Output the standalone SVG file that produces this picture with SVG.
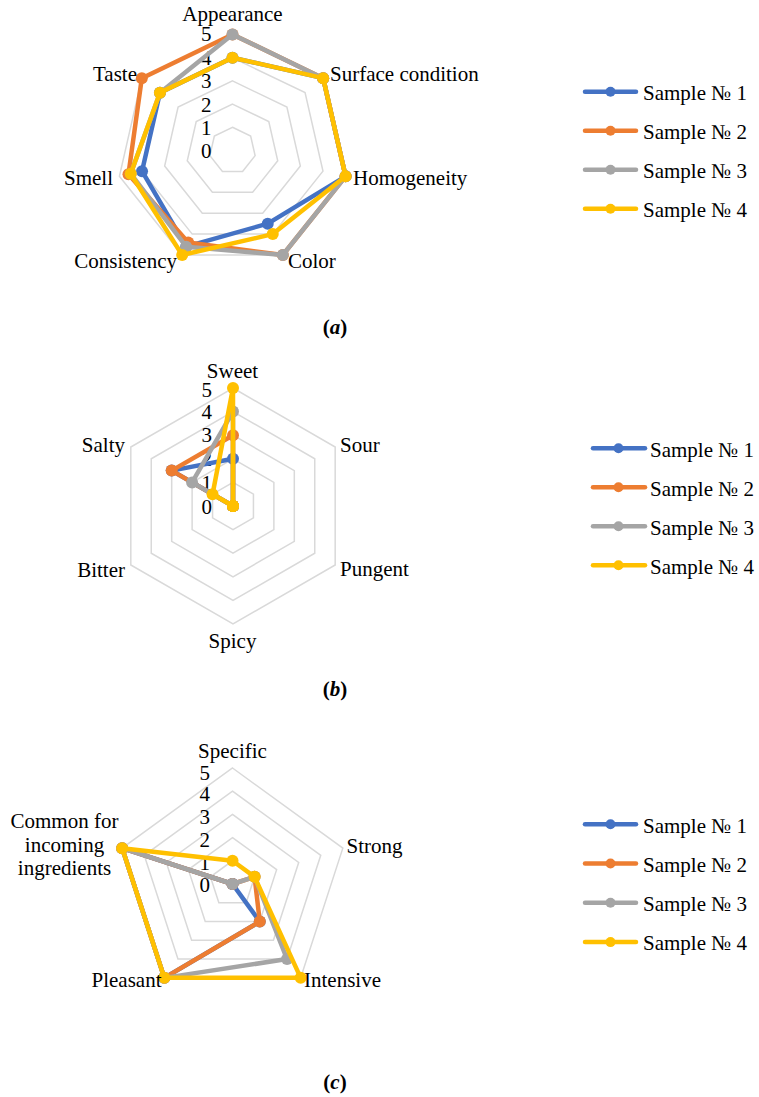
<svg xmlns="http://www.w3.org/2000/svg" width="759" height="1097" viewBox="0 0 759 1097">
<style>
text{font-family:"Liberation Serif","Times New Roman",serif;font-size:21px;fill:#000}
.grid{fill:none;stroke:#D9D9D9;stroke-width:1.5}
.ln{fill:none;stroke-width:4.5;stroke-linejoin:round;stroke-linecap:round}
.b{stroke:#4472C4}.o{stroke:#ED7D31}.g{stroke:#A5A5A5}.y{stroke:#FFC000}
.sb{marker-start:url(#mb);marker-mid:url(#mb)}
.so{marker-start:url(#mo);marker-mid:url(#mo)}
.sg{marker-start:url(#mg);marker-mid:url(#mg)}
.sy{marker-start:url(#my);marker-mid:url(#my)}
.fb{fill:#4472C4}.fo{fill:#ED7D31}.fg{fill:#A5A5A5}.fy{fill:#FFC000}
.e{text-anchor:end}.m{text-anchor:middle}
.cap{font-weight:bold}
</style>
<defs>
<marker id="mb" markerUnits="userSpaceOnUse" markerWidth="14" markerHeight="14" refX="7" refY="7"><circle cx="7" cy="7" r="6" fill="#4472C4"/></marker>
<marker id="mo" markerUnits="userSpaceOnUse" markerWidth="14" markerHeight="14" refX="7" refY="7"><circle cx="7" cy="7" r="6" fill="#ED7D31"/></marker>
<marker id="mg" markerUnits="userSpaceOnUse" markerWidth="14" markerHeight="14" refX="7" refY="7"><circle cx="7" cy="7" r="6" fill="#A5A5A5"/></marker>
<marker id="my" markerUnits="userSpaceOnUse" markerWidth="14" markerHeight="14" refX="7" refY="7"><circle cx="7" cy="7" r="6" fill="#FFC000"/></marker>
</defs>

<!-- Chart (a) -->
<g id="chart-a">
<g id="grid-a">
<polygon class="grid" points="232.5,127.3 250.64,136.04 255.12,155.66 242.57,171.4 222.43,171.4 209.88,155.66 214.36,136.04"/>
<polygon class="grid" points="232.5,104.1 268.78,121.57 277.74,160.82 252.63,192.31 212.37,192.31 187.26,160.82 196.22,121.57"/>
<polygon class="grid" points="232.5,80.9 286.91,107.11 300.35,165.99 262.7,213.21 202.3,213.21 164.65,165.99 178.09,107.11"/>
<polygon class="grid" points="232.5,57.7 305.05,92.64 322.97,171.15 272.76,234.11 192.24,234.11 142.03,171.15 159.95,92.64"/>
<polygon class="grid" points="232.5,34.5 323.19,78.17 345.59,176.31 282.83,255.02 182.17,255.02 119.41,176.31 141.81,78.17"/>
</g>
<g id="axis-a">
<text class="e" x="211.5" y="40.5">5</text>
<text class="e" x="211.5" y="64.5">4</text>
<text class="e" x="211.5" y="88">3</text>
<text class="e" x="211.5" y="111.5">2</text>
<text class="e" x="211.5" y="135">1</text>
<text class="e" x="211.5" y="158.3">0</text>
</g>
<g id="series-a">
<polygon class="ln b sb" points="232.5,57.7 323.19,78.17 345.59,176.31 267.73,223.66 186.2,246.65 142.03,171.15 159.95,92.64"/>
<polygon class="ln o so" points="232.5,34.5 323.19,78.17 345.59,176.31 282.83,255.02 188.21,242.47 128.46,174.25 141.81,78.17"/>
<polygon class="ln g sg" points="232.5,34.5 323.19,78.17 345.59,176.31 282.83,255.02 186.2,246.65 130.72,173.73 159.95,92.64"/>
<polygon class="ln y sy" points="232.5,57.7 323.19,78.17 345.59,176.31 272.76,234.11 182.17,255.02 130.72,173.73 159.95,92.64"/>
</g>
<g id="labels-a">
<text class="m" x="232.5" y="21">Appearance</text>
<text x="330" y="81">Surface condition</text>
<text x="353" y="185">Homogeneity</text>
<text x="288" y="268">Color</text>
<text class="e" x="177" y="268">Consistency</text>
<text class="e" x="113" y="185">Smell</text>
<text class="e" x="137" y="81">Taste</text>
</g>
<g id="legend-a">
<line class="ln b" x1="585" y1="91.7" x2="636" y2="91.7"/><circle class="fb" cx="610.5" cy="91.7" r="5"/><text x="643" y="100">Sample № 1</text>
<line class="ln o" x1="585" y1="130.7" x2="636" y2="130.7"/><circle class="fo" cx="610.5" cy="130.7" r="5"/><text x="643" y="139">Sample № 2</text>
<line class="ln g" x1="585" y1="169.7" x2="636" y2="169.7"/><circle class="fg" cx="610.5" cy="169.7" r="5"/><text x="643" y="178">Sample № 3</text>
<line class="ln y" x1="585" y1="208.7" x2="636" y2="208.7"/><circle class="fy" cx="610.5" cy="208.7" r="5"/><text x="643" y="217">Sample № 4</text>
</g>
<text id="caption-a" class="cap m" x="335" y="334">(<tspan font-style="italic">a</tspan>)</text>
</g>

<!-- Chart (b) -->
<g id="chart-b">
<g id="grid-b">
<polygon class="grid" points="233,482.4 253.44,494.2 253.44,517.8 233,529.6 212.56,517.8 212.56,494.2"/>
<polygon class="grid" points="233,458.8 273.88,482.4 273.88,529.6 233,553.2 192.12,529.6 192.12,482.4"/>
<polygon class="grid" points="233,435.2 294.31,470.6 294.31,541.4 233,576.8 171.69,541.4 171.69,470.6"/>
<polygon class="grid" points="233,411.6 314.75,458.8 314.75,553.2 233,600.4 151.25,553.2 151.25,458.8"/>
<polygon class="grid" points="233,388 335.19,447 335.19,565 233,624 130.81,565 130.81,447"/>
</g>
<g id="axis-b">
<text class="e" x="212" y="396.5">5</text>
<text class="e" x="212" y="418.5">4</text>
<text class="e" x="212" y="442">3</text>
<text class="e" x="212" y="466">2</text>
<text class="e" x="212" y="490">1</text>
<text class="e" x="212" y="513.5">0</text>
</g>
<g id="series-b">
<polygon class="ln b sb" points="233,458.8 233,506 233,506 233,506 233,506 171.69,470.6"/>
<polygon class="ln o so" points="233,435.2 233,506 233,506 233,506 233,506 171.69,470.6"/>
<polygon class="ln g sg" points="233,411.6 233,506 233,506 233,506 233,506 192.12,482.4"/>
<polygon class="ln y sy" points="233,388 233,506 233,506 233,506 233,506 212.56,494.2"/>
</g>
<g id="labels-b">
<text class="m" x="232.5" y="378">Sweet</text>
<text x="340" y="452">Sour</text>
<text x="340" y="576">Pungent</text>
<text class="m" x="232.5" y="648">Spicy</text>
<text class="e" x="125" y="576.5">Bitter</text>
<text class="e" x="125" y="451.5">Salty</text>
</g>
<g id="legend-b">
<line class="ln b" x1="593" y1="448.3" x2="645" y2="448.3"/><circle class="fb" cx="618.5" cy="448.3" r="5"/><text x="650" y="456.6">Sample № 1</text>
<line class="ln o" x1="593" y1="487.3" x2="645" y2="487.3"/><circle class="fo" cx="618.5" cy="487.3" r="5"/><text x="650" y="495.6">Sample № 2</text>
<line class="ln g" x1="593" y1="526.3" x2="645" y2="526.3"/><circle class="fg" cx="618.5" cy="526.3" r="5"/><text x="650" y="534.6">Sample № 3</text>
<line class="ln y" x1="593" y1="565.3" x2="645" y2="565.3"/><circle class="fy" cx="618.5" cy="565.3" r="5"/><text x="650" y="573.6">Sample № 4</text>
</g>
<text id="caption-b" class="cap m" x="335" y="696">(<tspan font-style="italic">b</tspan>)</text>
</g>

<!-- Chart (c) -->
<g id="chart-c">
<g id="grid-c">
<polygon class="grid" points="232.5,860.8 254.57,876.83 246.14,902.77 218.86,902.77 210.44,876.83"/>
<polygon class="grid" points="232.5,837.6 276.63,869.66 259.77,921.54 205.23,921.54 188.37,869.66"/>
<polygon class="grid" points="232.5,814.4 298.7,862.49 273.41,940.31 191.59,940.31 166.31,862.49"/>
<polygon class="grid" points="232.5,791.2 320.76,855.32 287.05,959.08 177.95,959.08 144.24,855.32"/>
<polygon class="grid" points="232.5,768 342.83,848.15 300.69,977.85 164.32,977.85 122.18,848.15"/>
</g>
<g id="axis-c">
<text class="e" x="210" y="780">5</text>
<text class="e" x="210" y="801">4</text>
<text class="e" x="210" y="823.5">3</text>
<text class="e" x="210" y="846.5">2</text>
<text class="e" x="210" y="869.5">1</text>
<text class="e" x="210" y="891.7">0</text>
</g>
<g id="series-c">
<polygon class="ln b sb" points="232.5,884 232.5,884 259.77,921.54 164.32,977.85 122.18,848.15"/>
<polygon class="ln o so" points="232.5,884 254.57,876.83 259.77,921.54 164.32,977.85 122.18,848.15"/>
<polygon class="ln g sg" points="232.5,884 254.57,876.83 287.05,959.08 164.32,977.85 122.18,848.15"/>
<polygon class="ln y sy" points="232.5,860.8 254.57,876.83 300.69,977.85 164.32,977.85 122.18,848.15"/>
</g>
<g id="labels-c">
<text class="m" x="232.5" y="758">Specific</text>
<text x="346.5" y="853">Strong</text>
<text x="304" y="986.5">Intensive</text>
<text class="e" x="161.5" y="986.5">Pleasant</text>
<text class="m" x="64.5" y="828"><tspan x="64.5">Common for</tspan><tspan x="64.5" dy="23.5">incoming</tspan><tspan x="64.5" dy="23.5">ingredients</tspan></text>
</g>
<g id="legend-c">
<line class="ln b" x1="585" y1="824.3" x2="636" y2="824.3"/><circle class="fb" cx="610.5" cy="824.3" r="5"/><text x="643" y="832.6">Sample № 1</text>
<line class="ln o" x1="585" y1="863.5" x2="636" y2="863.5"/><circle class="fo" cx="610.5" cy="863.5" r="5"/><text x="643" y="871.8">Sample № 2</text>
<line class="ln g" x1="585" y1="902.8" x2="636" y2="902.8"/><circle class="fg" cx="610.5" cy="902.8" r="5"/><text x="643" y="911.1">Sample № 3</text>
<line class="ln y" x1="585" y1="942.1" x2="636" y2="942.1"/><circle class="fy" cx="610.5" cy="942.1" r="5"/><text x="643" y="950.4">Sample № 4</text>
</g>
<text id="caption-c" class="cap m" x="335" y="1089">(<tspan font-style="italic">c</tspan>)</text>
</g>
</svg>
